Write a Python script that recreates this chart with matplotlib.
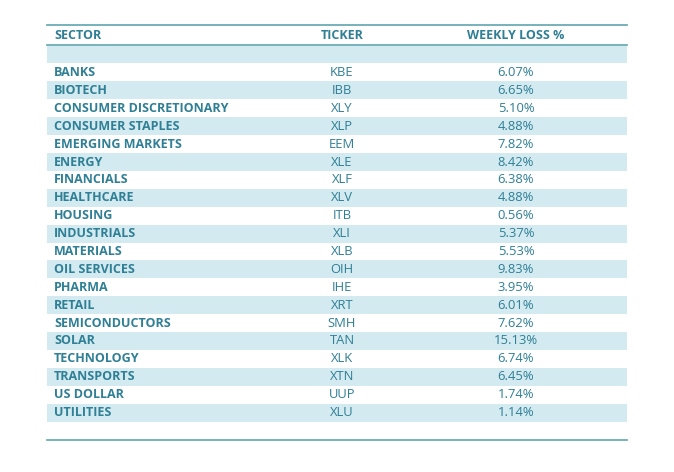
import matplotlib
matplotlib.use("Agg")
import matplotlib.pyplot as plt
from matplotlib.patches import Rectangle

# -------------------------------
# Data
# -------------------------------
sectors = [
    "BANKS", "BIOTECH", "CONSUMER DISCRETIONARY", "CONSUMER STAPLES",
    "EMERGING MARKETS", "ENERGY", "FINANCIALS", "HEALTHCARE", "HOUSING",
    "INDUSTRIALS", "MATERIALS", "OIL SERVICES", "PHARMA", "RETAIL",
    "SEMICONDUCTORS", "SOLAR", "TECHNOLOGY", "TRANSPORTS", "US DOLLAR",
    "UTILITIES",
]
tickers = [
    "KBE", "IBB", "XLY", "XLP", "EEM", "XLE", "XLF", "XLV", "ITB", "XLI",
    "XLB", "OIH", "IHE", "XRT", "SMH", "TAN", "XLK", "XTN", "UUP", "XLU",
]
weekly_loss = [
    6.07, 6.65, 5.10, 4.88, 7.82, 8.42, 6.38, 4.88, 0.56, 5.37,
    5.53, 9.83, 3.95, 6.01, 7.62, 15.13, 6.74, 6.45, 1.74, 1.14,
]
headers = ["SECTOR", "TICKER", "WEEKLY LOSS %"]

text_col = "#2F7F95"
band_col = "#D3EAF1"
line_col = "#5FA4AE"

W, H = 674, 472
fig = plt.figure(figsize=(W / 100, H / 100), dpi=100)
ax = fig.add_axes([0, 0, 1, 1])
ax.set_xlim(0, W)
ax.set_ylim(H, 0)
ax.axis("off")

x0, x1 = 47, 627
x_sector, x_ticker, x_loss = 54, 342, 516
row_h = 17.9
first_y = 72.5
font = ["Open Sans", "DejaVu Sans"]
fs = 9.0
fs_num = 9.4

# header
ax.plot([x0, x1], [25, 25], color=line_col, lw=1.2)
ax.plot([x0, x1], [45, 45], color=line_col, lw=1.2)
ax.text(x_sector, 35.5, headers[0], ha="left", va="center", color=text_col,
        fontsize=fs, fontweight="bold", family=font)
ax.text(x_ticker, 35.5, headers[1], ha="center", va="center", color=text_col,
        fontsize=fs, fontweight="bold", family=font)
ax.text(x_loss, 35.5, headers[2], ha="center", va="center", color=text_col,
        fontsize=fs, fontweight="bold", family=font)

# empty banded row under header
ax.add_patch(Rectangle((x0, 45.5), x1 - x0, 17.5, color=band_col, lw=0))

for i, (s, t, v) in enumerate(zip(sectors, tickers, weekly_loss)):
    y = first_y + i * row_h
    if i % 2 == 1:
        ax.add_patch(Rectangle((x0, y - row_h / 2), x1 - x0, row_h,
                               color=band_col, lw=0))
    ax.text(x_sector, y, s, ha="left", va="center", color=text_col,
            fontsize=fs, fontweight="bold", family=font)
    ax.text(x_ticker, y, t, ha="center", va="center", color=text_col,
            fontsize=fs_num, family=font)
    ax.text(x_loss, y, f"{v:.2f}%", ha="center", va="center", color=text_col,
            fontsize=fs_num, family=font)

ax.plot([x0, x1], [440, 440], color=line_col, lw=1.2)

fig.savefig("out.png", dpi=100)
